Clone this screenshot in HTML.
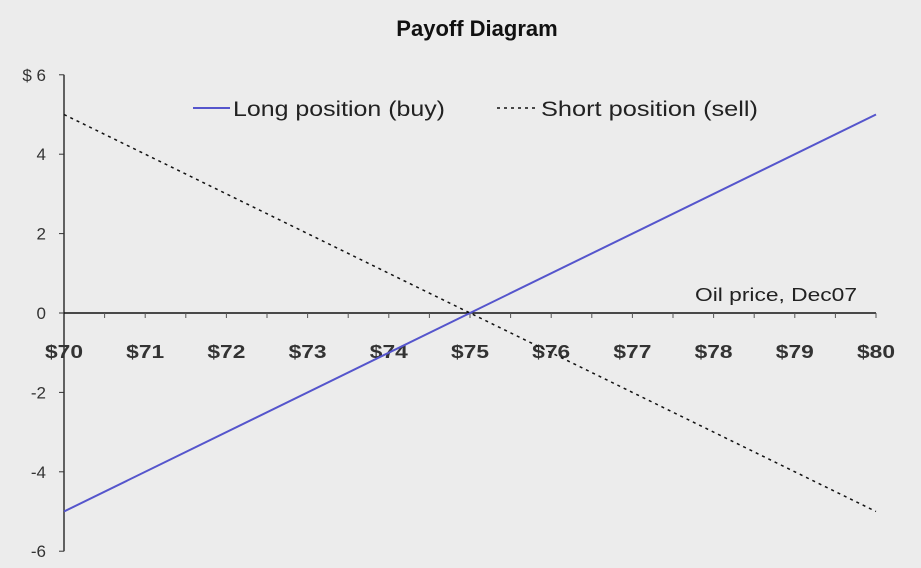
<!DOCTYPE html>
<html><head><meta charset="utf-8"><style>
body{margin:0;background:#ececec;}
svg{display:block;font-family:"Liberation Sans",Arial,sans-serif;}
</style></head><body>
<svg id="chart" width="921" height="568" viewBox="0 0 921 568">
<rect width="921" height="568" fill="#ececec"/>
<text x="477" y="36" text-anchor="middle" font-size="22" font-weight="bold" fill="#111">Payoff Diagram</text>
<g id="axes"></g>
<g id="series"></g>
<g>
<line x1="193" y1="108" x2="230" y2="108" stroke="#5555cc" stroke-width="2"/>
<text x="233" y="116" font-size="21" fill="#222" textLength="212" lengthAdjust="spacingAndGlyphs">Long position (buy)</text>
<line x1="497" y1="108" x2="538" y2="108" stroke="#111" stroke-width="1.5" stroke-dasharray="3,4"/>
<text x="541" y="116" font-size="21" fill="#222" textLength="217" lengthAdjust="spacingAndGlyphs">Short position (sell)</text>
</g>
<text x="695" y="301" font-size="18" fill="#222" textLength="162" lengthAdjust="spacingAndGlyphs">Oil price, Dec07</text>
</svg>
<script>
const prices=[70,80];
const longVals=[-5,5];
const shortVals=[5,-5];
const xTicks=[70,71,72,73,74,75,76,77,78,79,80];
const yTicks=[6,4,2,0,-2,-4,-6];
const NS="http://www.w3.org/2000/svg";
const xs=p=>64+(p-70)*81.2;
const ys=v=>313-v*39.7;
const ax=document.getElementById('axes'),se=document.getElementById('series');
function mk(t,a,par){const e=document.createElementNS(NS,t);for(const k in a)e.setAttribute(k,a[k]);par.appendChild(e);return e;}
let e=mk('line',{x1:xs(70),y1:ys(6),x2:xs(70),y2:ys(-6),stroke:'#333','stroke-width':1.5},ax);


e=mk('line',{x1:xs(70),y1:ys(0),x2:xs(80),y2:ys(0),stroke:'#111','stroke-width':1.5},ax);


yTicks.forEach(v=>{
 mk('line',{x1:xs(70)-5,y1:ys(v),x2:xs(70),y2:ys(v),stroke:'#333'},ax);
 const t=mk('text',{x:xs(70)-18,y:ys(v)+6,'text-anchor':'end','font-size':17,fill:'#333'},ax);
 t.textContent=(v===6?'$ 6':String(v));
 
 
});
for(let p=70.5;p<=80;p+=0.5){mk('line',{x1:xs(p),y1:ys(0),x2:xs(p),y2:ys(0)+5,stroke:'#555'},ax);}
xTicks.forEach(p=>{
 const t=mk('text',{x:xs(p)-19,y:358,'font-size':18,'font-weight':'bold',fill:'#333',textLength:38,lengthAdjust:'spacingAndGlyphs'},ax);
 t.textContent='$'+p;
 
 
});
e=mk('line',{x1:xs(prices[0]),y1:ys(longVals[0]),x2:xs(prices[1]),y2:ys(longVals[1]),stroke:'#5555cc','stroke-width':2},se);


e=mk('line',{x1:xs(prices[0]),y1:ys(shortVals[0]),x2:xs(prices[1]),y2:ys(shortVals[1]),stroke:'#111','stroke-width':1.5,'stroke-dasharray':'3,4'},se);


</script>
</body></html>
